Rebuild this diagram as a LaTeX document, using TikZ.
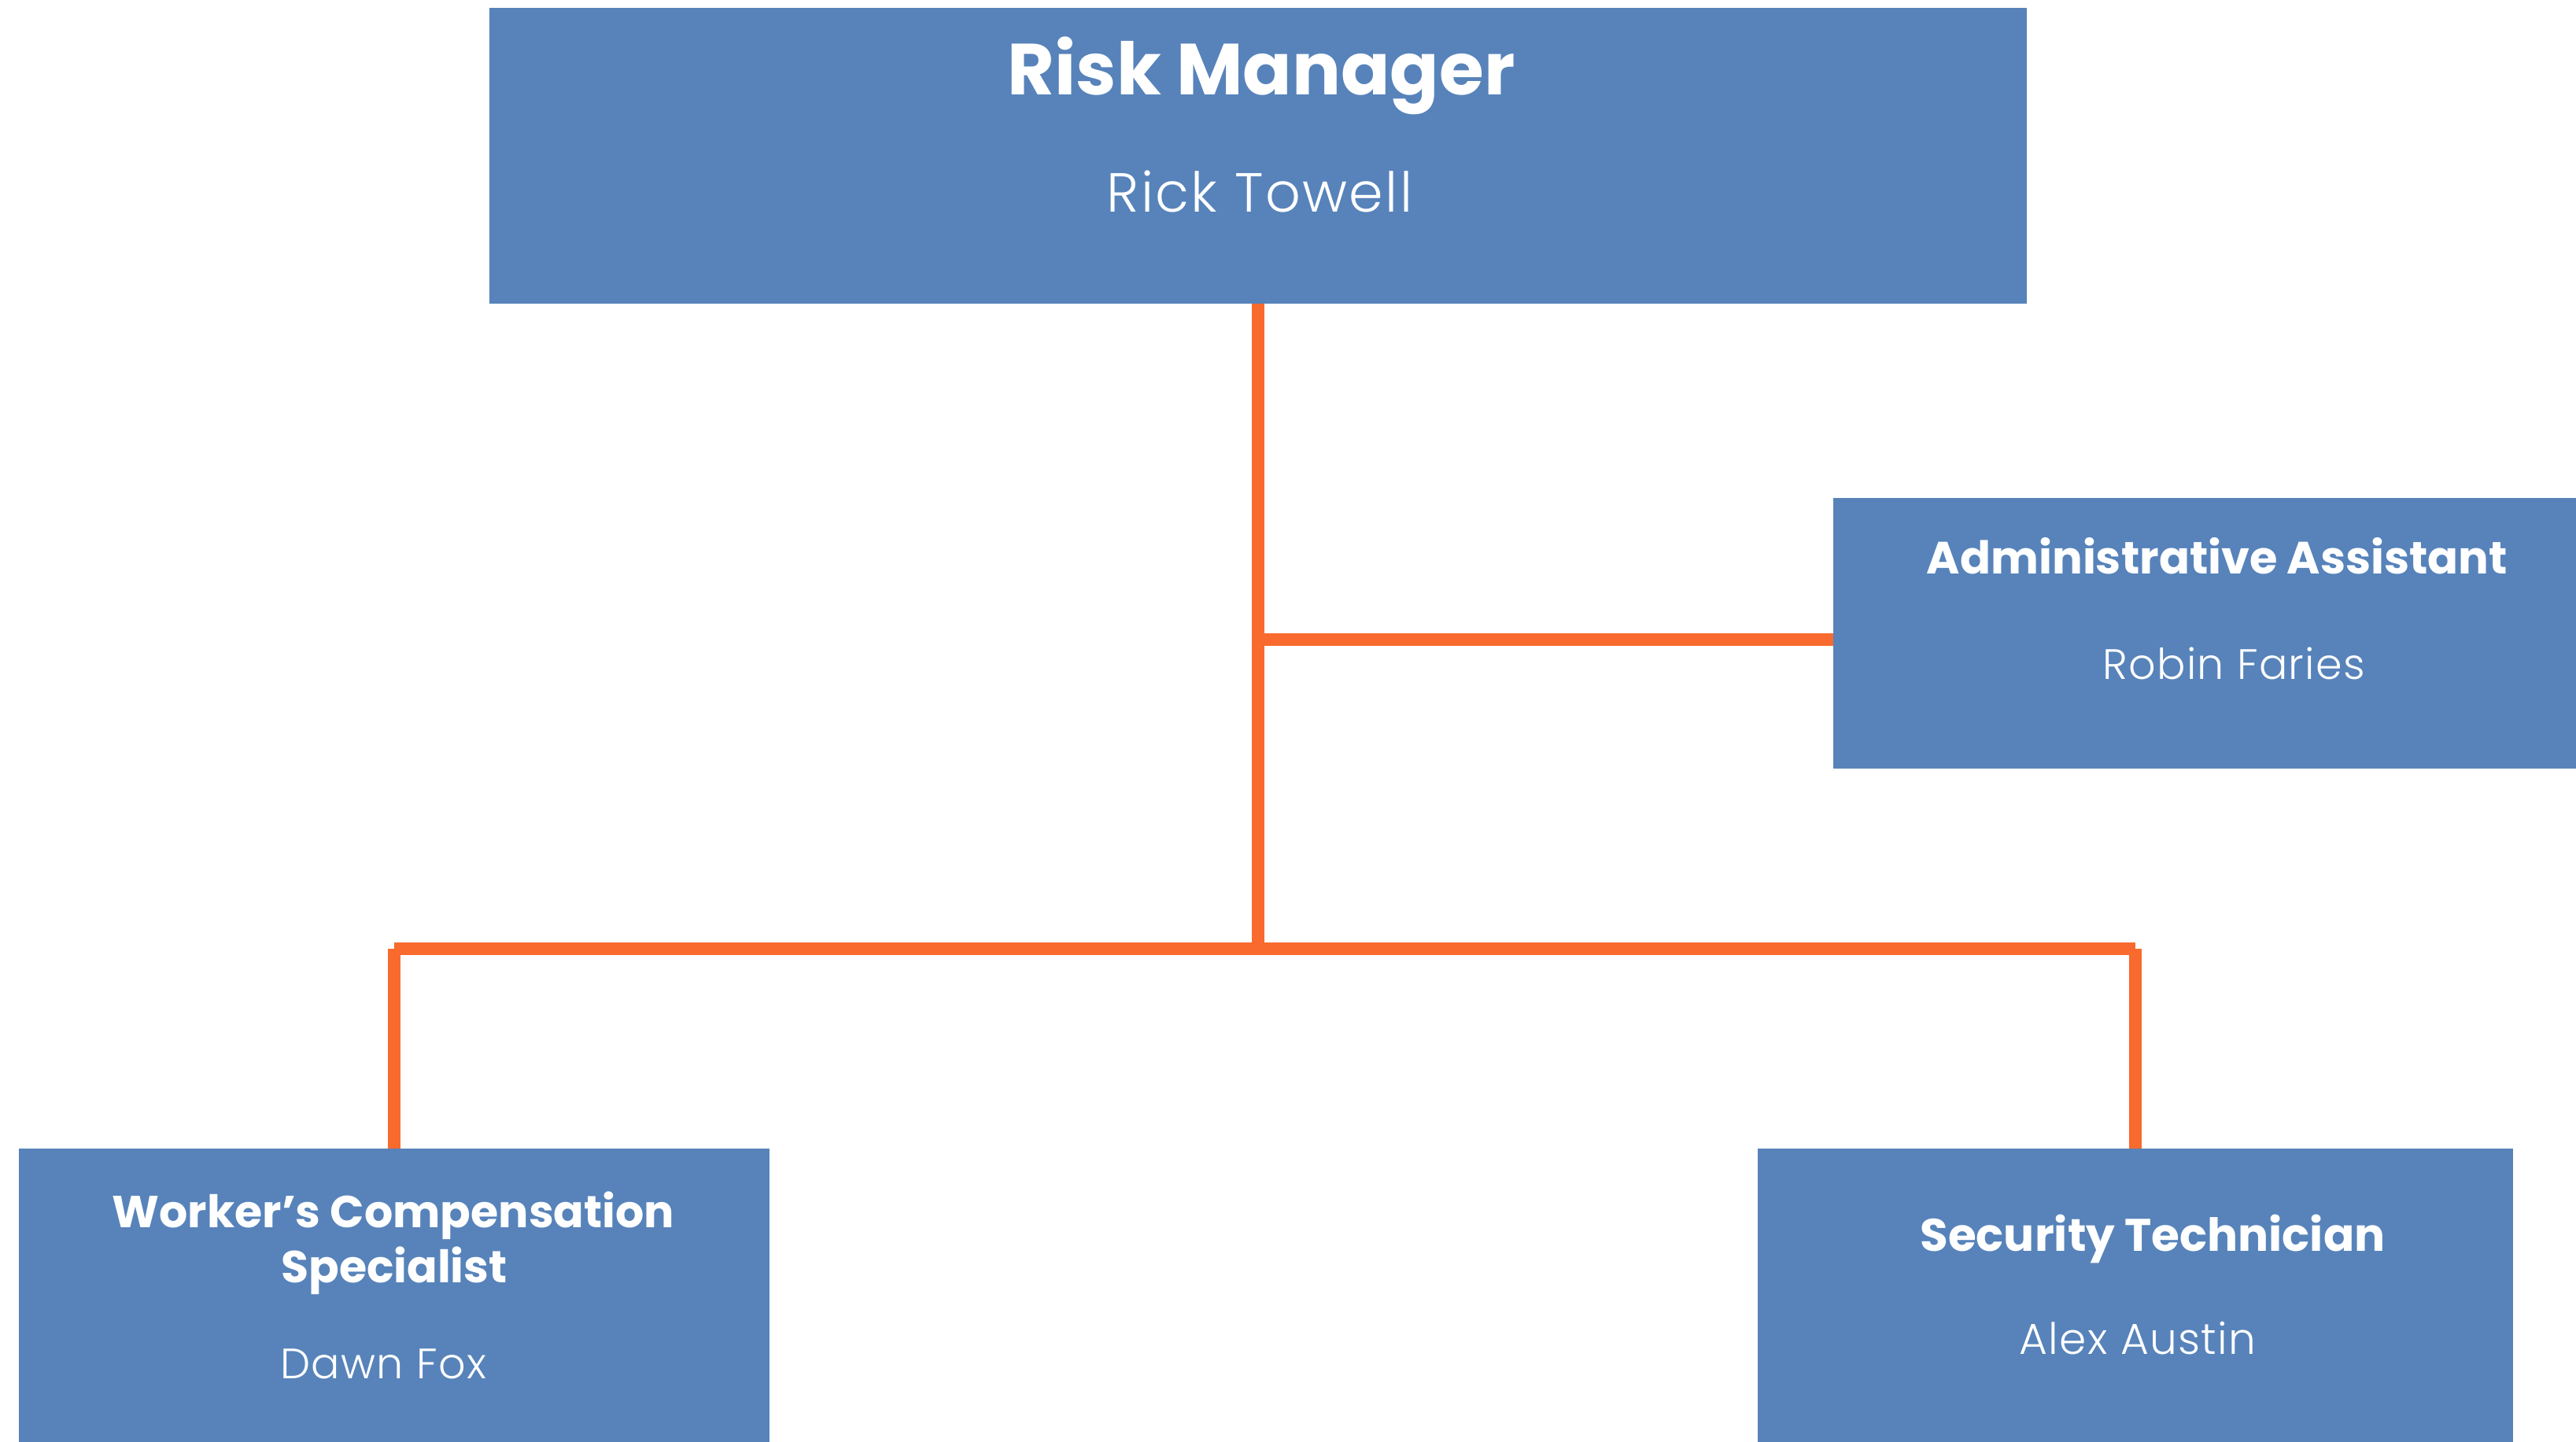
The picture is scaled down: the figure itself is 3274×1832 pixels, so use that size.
\documentclass[tikz,border=0pt]{standalone}
\usepackage{fontspec}
\setmainfont{Poppins}
\newfontfamily\namefont{Poppins}[UprightFont={* Light}, LetterSpace=2.5]
\newfontfamily\bignamefont{Poppins}[UprightFont={* Light}, LetterSpace=3.5]
\definecolor{boxblue}{RGB}{87,131,186}
\definecolor{linkorange}{RGB}{248,106,45}
\begin{document}
\begin{tikzpicture}[x=1pt,y=-1pt,
  box/.style={fill=boxblue, draw=none, inner sep=0pt, anchor=north west},
  link/.style={draw=linkorange, line width=16pt, line cap=butt},
  title/.style={text=white, anchor=base, inner sep=0pt, font=\bfseries},
  person/.style={text=white, anchor=base, inner sep=0pt, font=\namefont}]
\useasboundingbox (0,0) rectangle (3274,1832);
% boxes
\node[box, minimum width=1954pt, minimum height=376pt] (rm) at (622,10) {};
\node[box, minimum width=944pt, minimum height=344pt] (aa) at (2330,633) {};
\node[box, minimum width=954pt, minimum height=390pt] (wc) at (24,1460) {};
\node[box, minimum width=960pt, minimum height=390pt] (st) at (2234,1460) {};
% connectors
\coordinate (bar) at (0,1206);
\coordinate (abranch) at (rm.south |- 0,813);
\draw[link, shorten >=-8pt] (rm.south) -- (rm.south |- bar);
\draw[link, shorten <=-8pt] (abranch) -- (abranch -| aa.west);
\draw[link] (wc.north |- bar) -- (st.north |- bar);
\draw[link] (wc.north |- bar) -- (wc.north);
\draw[link] (st.north |- bar) -- (st.north);
% texts
\node[title, font=\bfseries\fontsize{92}{92}\selectfont] (rmt) at (1603,120) {Risk Manager};
\node[person, font=\bignamefont\fontsize{70}{70}\selectfont] (rmn) at (1601,269) {Rick Towell};
\node[title, font=\bfseries\fontsize{57.5}{57.5}\selectfont] (aat) at (2818,729) {Administrative Assistant};
\node[person, font=\namefont\fontsize{54}{54}\selectfont] (aan) at (2839,863) {Robin Faries};
\node[title, font=\bfseries\fontsize{57}{57}\selectfont] (wct1) at (500,1560) {Worker’s Compensation};
\node[title, font=\bfseries\fontsize{57}{57}\selectfont] (wct2) at (501,1630) {Specialist};
\node[person, font=\namefont\fontsize{54}{54}\selectfont] (wcn) at (487,1752) {Dawn Fox};
\node[title, font=\bfseries\fontsize{58}{58}\selectfont] (stt) at (2736,1590) {Security Technician};
\node[person, font=\namefont\fontsize{55}{55}\selectfont] (stn) at (2717,1721) {Alex Austin};
\end{tikzpicture}
\end{document}
